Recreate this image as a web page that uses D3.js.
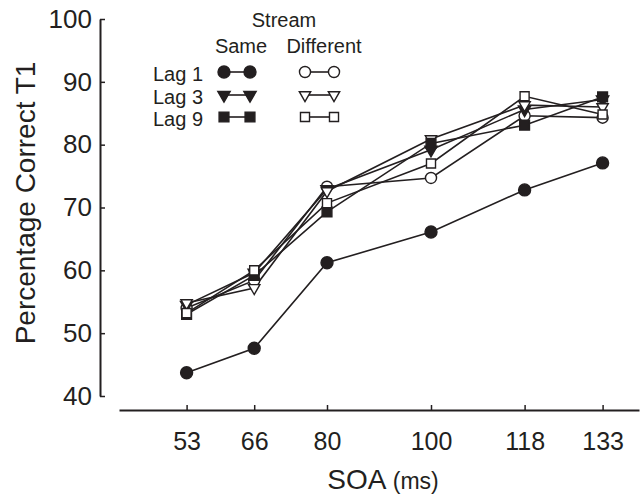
<!DOCTYPE html>
<html>
<head>
<meta charset="utf-8">
<script src="https://cdn.jsdelivr.net/npm/d3@7"></script>
<style>
  body { margin: 0; background: #fff; }
  svg { display: block; font-family: "Liberation Sans", Arial, Helvetica, sans-serif; }
</style>
</head>
<body>
<svg id="chart" width="644" height="497"></svg>
<script>
// SOA values (ms) and percentage correct T1 per lag / stream condition
var soa = [53, 66, 80, 100, 118, 133];
var yTicks = [40, 50, 60, 70, 80, 90, 100];
var lag1Same = [43.7, 47.6, 61.2, 66.1, 72.8, 77.1];
var lag1Diff = [54.0, 58.4, 73.3, 74.7, 84.6, 84.3];
var lag3Same = [54.5, 59.6, 72.9, 79.2, 85.6, 87.2];
var lag3Diff = [54.8, 57.2, 72.6, 80.9, 86.3, 86.0];
var lag9Same = [53.0, 59.2, 69.3, 80.2, 83.1, 87.6];
var lag9Diff = [53.2, 60.0, 70.7, 77.0, 87.7, 84.8];
var lagNames = ["Lag 1", "Lag 3", "Lag 9"];

var ink = "#231f20";
var svg = d3.select("#chart");

var x = d3.scaleLinear().domain([40, 140]).range([119, 639]),
    y = d3.scaleLinear().domain([40, 100]).range([396, 19]);

// symbol shapes: circle, down triangle, square
var shapes = [
  {type: d3.symbolCircle, size: 113, rot: 0},
  {type: d3.symbolTriangle, size: 66, rot: 180},
  {type: d3.symbolSquare, size: 96, rot: 0}
];

var series = [
  {lag: 0, filled: true, values: lag1Same},
  {lag: 0, filled: false, values: lag1Diff},
  {lag: 1, filled: true, values: lag3Same},
  {lag: 1, filled: false, values: lag3Diff},
  {lag: 2, filled: true, values: lag9Same},
  {lag: 2, filled: false, values: lag9Diff}
];
series.forEach(function(s) {
  s.points = s.values.map(function(v, i) { return {soa: soa[i], value: v}; });
});

function sym(lag, filled) {
  var sh = shapes[lag];
  var size = filled ? sh.size : sh.size * 0.85;
  return d3.symbol().type(sh.type).size(size)();
}

// axes
var yAxis = d3.axisLeft(y).tickValues(yTicks).tickSizeInner(-5).tickSizeOuter(0).tickPadding(8);
var gy = svg.append("g").attr("transform", "translate(100,0)").call(yAxis);
gy.select(".domain").attr("stroke", ink).attr("stroke-width", 2);
gy.selectAll(".tick line").attr("stroke", ink).attr("stroke-width", 1.5);
gy.selectAll(".tick text").attr("fill", ink).style("font-size", "26px")
  .style("font-family", "'Liberation Sans', Arial, sans-serif");

var xAxis = d3.axisBottom(x).tickValues(soa).tickSizeInner(-5).tickSizeOuter(0).tickPadding(22);
var gx = svg.append("g").attr("transform", "translate(0,410)").call(xAxis);
gx.select(".domain").attr("stroke", ink).attr("stroke-width", 2);
gx.selectAll(".tick line").attr("stroke", ink).attr("stroke-width", 1.5);
gx.selectAll(".tick text").attr("fill", ink).style("font-size", "25px")
  .style("font-family", "'Liberation Sans', Arial, sans-serif");

// axis titles
svg.append("text")
  .attr("transform", "translate(35,203) rotate(-90)")
  .attr("text-anchor", "middle")
  .attr("fill", ink)
  .style("font-size", "28px")
  .text("Percentage Correct T1");

var xt = svg.append("text")
  .attr("x", 383).attr("y", 489)
  .attr("text-anchor", "middle")
  .attr("fill", ink);
xt.append("tspan").style("font-size", "28px").text("SOA");
xt.append("tspan").style("font-size", "23px").text(" (ms)");

// lines
var line = d3.line()
  .x(function(d) { return x(d.soa); })
  .y(function(d) { return y(d.value); });

svg.append("g").selectAll("path")
  .data(series)
  .enter().append("path")
  .attr("d", function(d) { return line(d.points); })
  .attr("fill", "none")
  .attr("stroke", ink)
  .attr("stroke-width", 1.6);

// markers
var marks = svg.append("g").selectAll(".series")
  .data(series)
  .enter().append("g")
  .attr("class", "series");

marks.selectAll("path")
  .data(function(d) { return d.points.map(function(p) { return {p: p, s: d}; }); })
  .enter().append("path")
  .attr("d", function(d) { return sym(d.s.lag, d.s.filled); })
  .attr("transform", function(d) {
    return "translate(" + x(d.p.soa) + "," + y(d.p.value) + ") rotate(" + shapes[d.s.lag].rot + ")";
  })
  .attr("fill", function(d) { return d.s.filled ? ink : "#fff"; })
  .attr("stroke", ink)
  .attr("stroke-width", 1.4);

// legend
var leg = svg.append("g").attr("fill", ink).style("font-size", "20px");
leg.append("text").attr("x", 284).attr("y", 27).attr("text-anchor", "middle").text("Stream");
leg.append("text").attr("x", 241).attr("y", 53).attr("text-anchor", "middle").text("Same");
leg.append("text").attr("x", 324).attr("y", 53).attr("text-anchor", "middle").text("Different");

var rowY = [72, 95, 117];
var cols = [{x0: 224, x1: 250, filled: true}, {x0: 305, x1: 334, filled: false}];

lagNames.forEach(function(name, i) {
  leg.append("text").attr("x", 153).attr("y", rowY[i] + 9).text(name);
  cols.forEach(function(c) {
    leg.append("line")
      .attr("x1", c.x0).attr("x2", c.x1)
      .attr("y1", rowY[i]).attr("y2", rowY[i])
      .attr("stroke", ink).attr("stroke-width", 1.6);
    [c.x0, c.x1].forEach(function(cx) {
      leg.append("path")
        .attr("d", sym(i, c.filled))
        .attr("transform", "translate(" + cx + "," + rowY[i] + ") rotate(" + shapes[i].rot + ")")
        .attr("fill", c.filled ? ink : "#fff")
        .attr("stroke", ink)
        .attr("stroke-width", 1.4);
    });
  });
});
</script>
</body>
</html>
